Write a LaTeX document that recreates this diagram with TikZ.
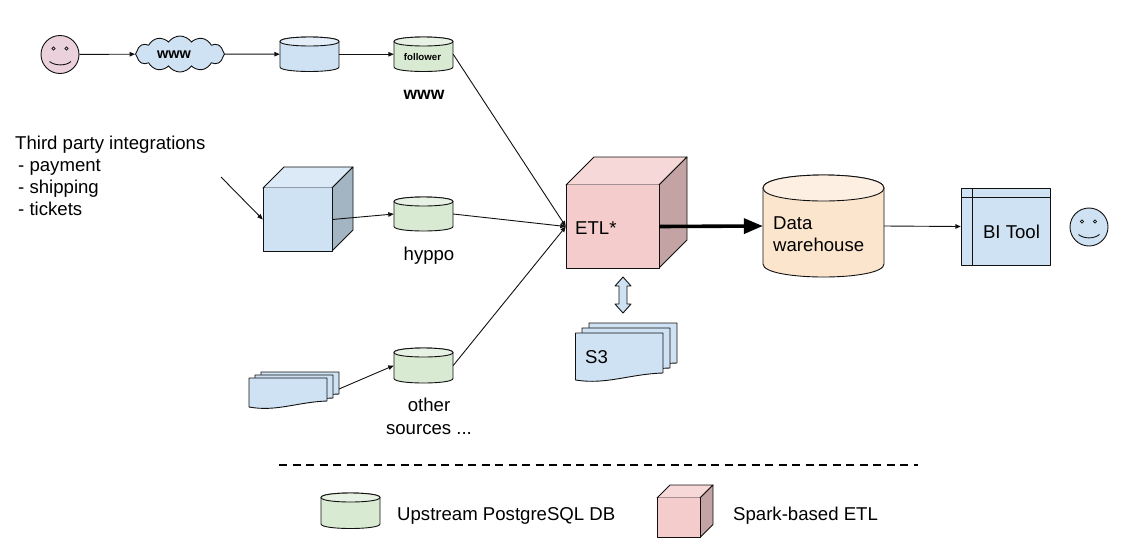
\documentclass[tikz,border=0pt]{standalone}
\usepackage{fontspec}
\setmainfont{Liberation Sans}
\usetikzlibrary{arrows.meta,shapes.symbols,calc}
\definecolor{blueF}{HTML}{CFE2F3}
\definecolor{blueT}{HTML}{DCE9F6}
\definecolor{blueS}{HTML}{A3B5C3}
\definecolor{blueC}{HTML}{E3EEF8}
\definecolor{greenF}{HTML}{D9EAD3}
\definecolor{greenT}{HTML}{E8F2E4}
\definecolor{pinkF}{HTML}{F4CCCC}
\definecolor{pinkT}{HTML}{F6D8D9}
\definecolor{pinkS}{HTML}{C3A3A3}
\definecolor{orangeF}{HTML}{FCE5CD}
\definecolor{orangeT}{HTML}{FDF0E3}
\definecolor{faceP}{HTML}{EAD1DC}
\definecolor{lineC}{HTML}{111111}
\tikzset{
  x=1pt,y=-1pt,
  shapeline/.style={draw=lineC,line width=0.9pt,line join=round},
  link/.style={draw=lineC,line width=0.9pt,-{Triangle[length=5.5pt,width=4.5pt]},shorten >=0pt},
  heavylink/.style={draw=black,line width=3.6pt,-{Triangle[length=19pt,width=15pt]}},
  lab/.style={font=\fontsize{18.6}{22}\selectfont,inner sep=0pt,text=black},
}
% name, x1, y1, x2, y2, ry, body colour, top colour
\newcommand{\drum}[8]{%
  \fill[#7,shapeline] ({#2},{#3+#6}) -- ({#2},{#5-#6}) .. controls ({#2},{#5+#6/3}) and ({#4},{#5+#6/3}) .. ({#4},{#5-#6}) -- ({#4},{#3+#6}) .. controls ({#4},{#3-#6/3}) and ({#2},{#3-#6/3}) .. cycle;
  \fill[#8,shapeline] ({#2},{#3+#6}) .. controls ({#2},{#3-#6/3}) and ({#4},{#3-#6/3}) .. ({#4},{#3+#6}) .. controls ({#4},{#3+#6*7/3}) and ({#2},{#3+#6*7/3}) .. cycle;
  \node[inner sep=0pt,minimum width={(#4-#2)*1pt},minimum height={(#5-#3)*1pt}] (#1) at ({(#2+#4)/2},{(#3+#5)/2}) {};
}
% name, x1, y1, x2, y2, depth, front, top, side
\newcommand{\solid}[9]{%
  \fill[#8,shapeline] ({#2},{#3}) -- ({#2+#6},{#3-#6}) -- ({#4+#6},{#3-#6}) -- ({#4},{#3}) -- cycle;
  \fill[#9,shapeline] ({#4},{#3}) -- ({#4+#6},{#3-#6}) -- ({#4+#6},{#5-#6}) -- ({#4},{#5}) -- cycle;
  \fill[#7,draw=none] ({#2},{#3}) rectangle ({#4},{#5});
  \draw[shapeline] ({#2},{#3}) -- ({#2},{#5}) -- ({#4},{#5}) -- ({#4},{#3});
  \node[inner sep=0pt,minimum width={(#4-#2)*1pt},minimum height={(#5-#3)*1pt}] (#1) at ({(#2+#4)/2},{(#3+#5)/2}) {};
}
% x1, y1, x2, yright, yleft
\newcommand{\sheet}[5]{%
  \fill[blueF,shapeline] ({#1},{#2}) -- ({#3},{#2}) -- ({#3},{#4}) .. controls ({#1+0.62*(#3-#1)},{#4+1}) and ({#1+0.35*(#3-#1)},{#5+5}) .. ({#1},{#5}) -- cycle;
}
\begin{document}
\begin{tikzpicture}
\useasboundingbox (0,0) rectangle (1121,555);
\fill[white] (0,0) rectangle (1121,555);

% top row
\node[circle,draw=lineC,line width=0.9pt,fill=faceP,minimum size=38pt,inner sep=0pt] (userA) at (60,54.5) {};
\draw[line width=0.8pt,draw=lineC] (53.5,48.5) circle (1.6pt) (66.5,48.5) circle (1.6pt);
\draw[line width=0.9pt,draw=lineC] (49.5,61.5) .. controls (55,66) and (66,66) .. (71,61.5);
\node[cloud,cloud puffs=12,cloud puff arc=110,aspect=2.6,draw=lineC,line width=0.9pt,fill=blueF,inner sep=0pt,minimum width=89pt,minimum height=36pt] (www) at (180,54) {};
\node[font=\fontsize{14.5}{16}\selectfont\bfseries,inner sep=0pt] (wwwText) at (174,55) {www};
\drum{dbA}{280}{37}{339}{71.5}{4.5}{blueF}{blueC}
\drum{follower}{394}{37}{453}{71.5}{4.5}{greenF}{greenT}
\node[font=\fontsize{9.7}{12}\selectfont\bfseries,inner sep=0pt] (followerText) at (422.5,57) {follower};
\node[lab,font=\fontsize{17.5}{20}\selectfont\bfseries] (wwwLabel) at (424,94.5) {www};

% third party
\node[lab,align=left,anchor=north west,font=\fontsize{18.6}{22}\selectfont] (third) at (15,136) {Third party integrations\\\hspace{3pt}- payment\\\hspace{3pt}- shipping\\\hspace{3pt}- tickets};
\coordinate (thirdEnd) at (221,177);
\solid{hub}{263}{188}{332}{251}{21}{blueF}{blueT}{blueS}
\drum{hyppo}{394}{197}{453}{231}{4.5}{greenF}{greenT}
\node[lab] (hyppoLabel) at (429,256) {hyppo};

% other sources
\sheet{261}{372}{339}{394}{399}
\sheet{255}{375}{333}{398}{403}
\sheet{249}{378}{327}{401}{407}
\node[inner sep=0pt,minimum width=78pt,minimum height=22pt] (files) at (300,383) {};
\coordinate (filesOut) at (339,389);
\drum{other}{394}{348}{453}{383}{4.5}{greenF}{greenT}
\node[lab] (otherLabel) at (429,405) {other};
\node[lab] (sourcesLabel) at (429,429.5) {sources ...};

% ETL
\solid{etl}{566}{185}{659}{268}{28}{pinkF}{pinkT}{pinkS}
\node[lab,anchor=west] (etlText) at (575,228.5) {ETL*};

% S3
\fill[blueF,shapeline] (623,277) -- (631,286) -- (627,286) -- (627,304) -- (631,304) -- (623,313) -- (615,304) -- (619,304) -- (619,286) -- (615,286) -- cycle;
\sheet{589}{323}{677}{363}{368}
\sheet{582}{328}{670}{368}{373}
\sheet{575.5}{333}{663}{373}{380}
\node[lab,anchor=west] (s3) at (585,357.5) {S3};

% warehouse
\drum{dw}{763}{175}{884}{277}{13}{orangeF}{orangeT}
\node[lab,anchor=west,align=left,font=\fontsize{18.6}{22}\selectfont] (dwText) at (773,234) {Data\\warehouse};

% BI
\draw[shapeline,fill=blueF] (961,188) rectangle (1050,265);
\draw[shapeline] (972,188) -- (972,265) (961,197) -- (1050,197);
\node[inner sep=0pt,minimum width=89pt,minimum height=77pt] (bi) at (1005.5,226.5) {};
\node[lab] (biText) at (1011.5,232) {BI Tool};
\node[circle,draw=lineC,line width=0.9pt,fill=blueF,minimum size=38pt,inner sep=0pt] (userB) at (1089,227) {};
\draw[line width=0.8pt,draw=lineC] (1082,221.5) circle (1.6pt) (1095,221.5) circle (1.6pt);
\draw[line width=0.9pt,draw=lineC] (1078.5,234.5) .. controls (1084,239) and (1094,239) .. (1099.5,234.5);

% connectors
\draw[link] (userA) -- (www);
\draw[link] (www) -- (dbA);
\draw[link] (dbA) -- (follower);
\draw[link] (follower.east) -- (etl.west);
\draw[link] (thirdEnd) -- (hub.west);
\draw[link] (hub.east) -- (hyppo.west);
\draw[link] (hyppo.east) -- (etl.west);
\draw[link] (filesOut) -- (other.west);
\draw[link] (other.east) -- (etl.west);
\draw[heavylink] (etl.east) -- (dw.west);
\draw[link] (dw.east) -- (bi.west);

% legend
\coordinate (dashA) at (279,465);
\coordinate (dashB) at (918,465);
\draw[line width=2pt,dash pattern=on 8pt off 5.5pt] (dashA) -- (dashB);
\drum{legendDb}{321}{493}{380}{528.5}{4.5}{greenF}{greenT}
\node[lab,anchor=west] (legendDbText) at (397,516) {Upstream PostgreSQL DB};
\solid{legendEtl}{657}{498}{700}{537.5}{13}{pinkF}{pinkT}{pinkS}
\node[lab,anchor=west] (legendEtlText) at (733,516) {Spark-based ETL};
\end{tikzpicture}
\end{document}
